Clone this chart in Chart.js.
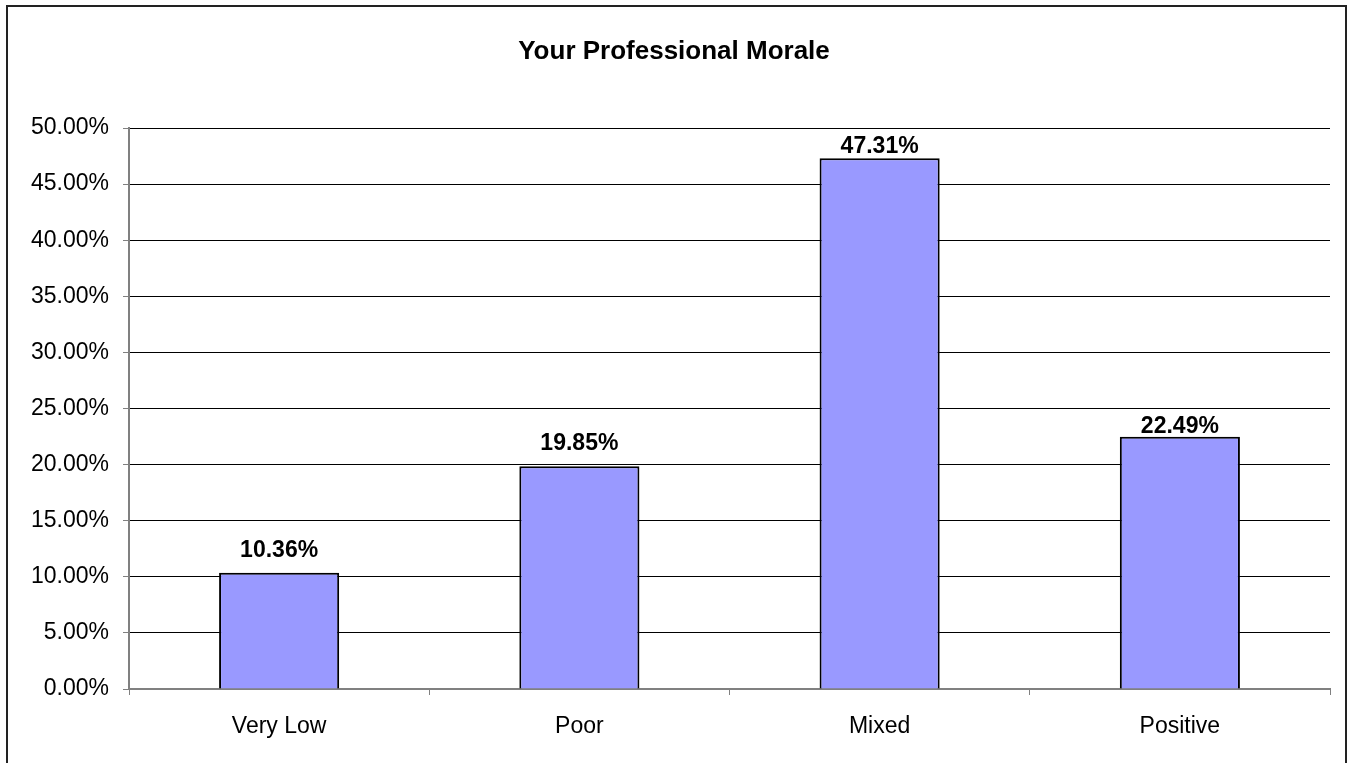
<!DOCTYPE html>
<html>
<head>
<meta charset="utf-8">
<script src="https://cdn.jsdelivr.net/npm/chart.js@4/dist/chart.umd.min.js"></script>
<style>
  html, body { margin: 0; padding: 0; background: #fff; }
  #wrap { width: 1350px; height: 763px; }
</style>
</head>
<body>
<div id="wrap"><canvas id="barChart" width="1350" height="763"></canvas></div>
<script>
// chart data
const categories = ["Very Low", "Poor", "Mixed", "Positive"];
const morale = [10.36, 19.85, 47.31, 22.49];
const yTicks = [0, 5, 10, 15, 20, 25, 30, 35, 40, 45, 50];
const chartTitle = 'Your Professional Morale';

const FONT = "'Liberation Sans', Arial, sans-serif";

// gap between bar top and its label baseline (excel put them unevenly)
const labelGap = [16, 16, 5, 4];

// frame and title
const framePlugin = {
  id: 'frame',
  beforeDraw(chart) {
    const ctx = chart.ctx;
    ctx.save();
    ctx.fillStyle = '#fff';
    ctx.fillRect(0, 0, chart.width, chart.height);
    ctx.strokeStyle = '#222';
    ctx.lineWidth = 2;
    ctx.strokeRect(7, 6, 1339, 800);
    ctx.font = "bold 26px " + FONT;
    ctx.fillStyle = '#000';
    ctx.textAlign = 'center';
    ctx.textBaseline = 'middle';
    ctx.fillText(chartTitle, 674, 52);
    ctx.restore();
  }
};

// value labels over the bars
const valueLabels = {
  id: 'valueLabels',
  afterDatasetsDraw(chart) {
    const ctx = chart.ctx;
    const meta = chart.getDatasetMeta(0);
    ctx.save();
    ctx.font = "bold 23px " + FONT;
    ctx.fillStyle = '#000';
    ctx.textAlign = 'center';
    ctx.textBaseline = 'alphabetic';
    meta.data.forEach(function(bar, i){
      ctx.fillText(morale[i].toFixed(2) + '%', bar.x, bar.y - labelGap[i]);
    });
    ctx.restore();
  }
};

new Chart(document.getElementById("barChart"), {
  type: 'bar',
  data: {
    labels: categories,
    datasets: [{
      label: chartTitle,
      data: morale,
      backgroundColor: '#9999FF',
      borderColor: '#000',
      borderWidth: 2,
      categoryPercentage: 1.0,
      barPercentage: 0.4
    }]
  },
  options: {
    responsive: false,
    animation: false,
    devicePixelRatio: 1,
    layout: { padding: { left: 0, right: 20, top: 128, bottom: 0 } },
    plugins: {
      legend: { display: false },
      tooltip: { enabled: false },
      title: { display: false }
    },
    scales: {
      x: {
        grid: {
          offset: true,
          drawOnChartArea: false,
          drawTicks: true,
          tickLength: 6,
          tickColor: '#808080'
        },
        border: { color: '#808080', width: 2 },
        ticks: {
          color: '#000',
          font: { family: FONT, size: 23 },
          padding: 18
        },
        afterFit(scale) { scale.height = 74; }
      },
      y: {
        min: 0,
        max: 50,
        afterBuildTicks(scale) {
          scale.ticks = yTicks.map(v => ({ value: v }));
        },
        grid: {
          color: ctx => (ctx.tick && ctx.tick.value === 0) ? '#808080' : '#000',
          lineWidth: 1,
          tickLength: 6,
          tickColor: '#808080'
        },
        border: { color: '#808080', width: 2 },
        ticks: {
          color: '#000',
          font: { family: FONT, size: 23 },
          padding: 14,
          callback: v => v.toFixed(2) + '%'
        },
        afterFit(scale) { scale.width = 129; }
      }
    }
  },
  plugins: [framePlugin, valueLabels]
});
</script>
</body>
</html>
